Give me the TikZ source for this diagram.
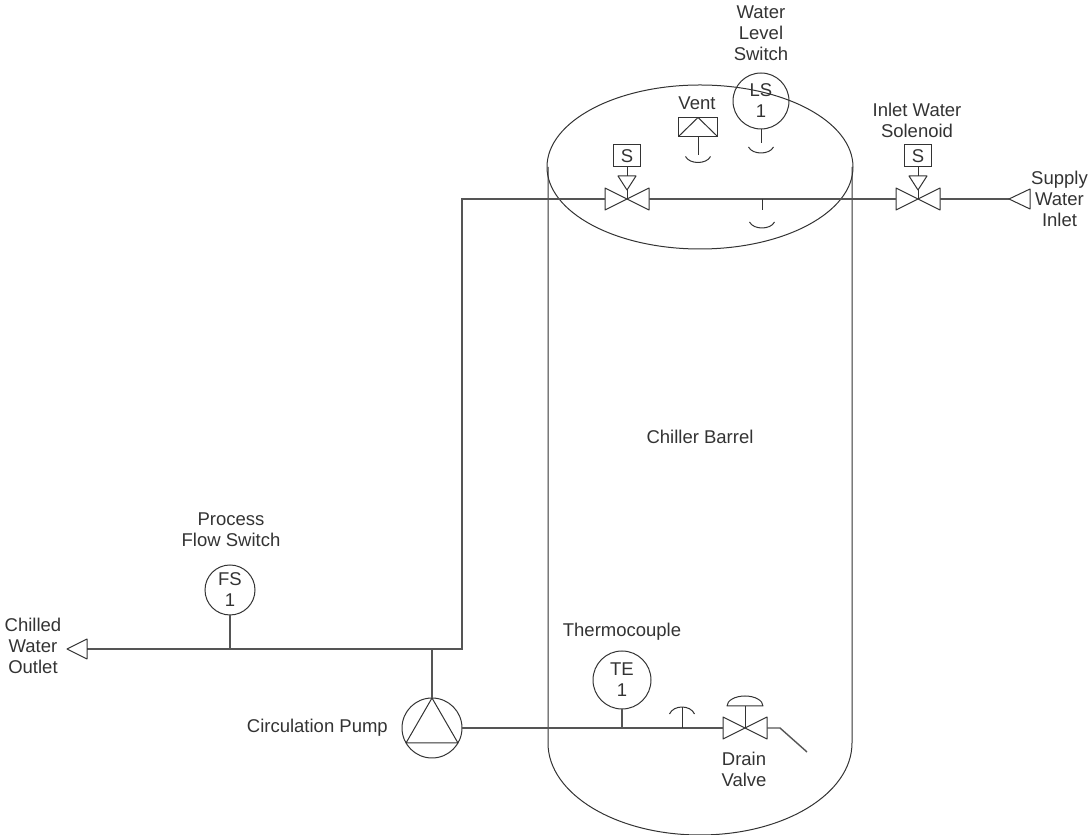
\documentclass[tikz,border=0pt]{standalone}
\usepackage{fontspec}
\setmainfont{Liberation Sans}
\usepackage{xcolor}
\usetikzlibrary{calc,positioning}
\definecolor{ink}{HTML}{333333}
\definecolor{pipeink}{HTML}{555555}
\tikzset{
  wall/.style={draw=ink, line width=1pt, line join=round},
  pipe/.style={draw=pipeink, line width=1.4pt},
  inst/.style={circle, draw=ink, line width=1pt, minimum size=50pt, inner sep=0pt, outer sep=0pt, align=center, text=ink},
  sbox/.style={rectangle, draw=ink, line width=1pt, minimum width=27pt, minimum height=22pt, inner sep=0pt, outer sep=0pt, text=ink},
  lab/.style={text=ink, align=center, inner sep=0pt},
  valve/.pic={
    \draw[wall] (-22,11) -- (22,-11) -- (22,11) -- (-22,-11) -- cycle;
    \coordinate (-w) at (-22,0);
    \coordinate (-e) at (22,0);
    \coordinate (-c) at (0,0);
  },
}

\begin{document}
\begin{tikzpicture}[x=1pt, y=1pt, font=\fontsize{18.5}{21}\selectfont]
  \useasboundingbox (0,0) rectangle (1088,835);

  % barrel
  \draw[wall] (700,668) ellipse [x radius=153pt, y radius=82pt];
  \draw[wall] (548,668) -- (548,92) arc[start angle=180, end angle=360, x radius=152pt, y radius=92pt] -- (852,668);
  \node[lab] (barrel) at (700,398) {Chiller Barrel};

  % pipe junctions
  \coordinate (outtip) at (67,186);
  \coordinate (outlet) at (87,186);
  \coordinate (riserbot) at (462,186);
  \coordinate (risertop) at (462,636);
  \coordinate (intip) at (1009,636);
  \coordinate (inlet) at (1030,636);

  \pic (sv1) at (627,636) {valve};
  \pic (sv2) at (918,636) {valve};
  \pic (dv) at (745,107) {valve};

  % instruments
  \node[inst, minimum size=60pt] (pump) at (432,107) {};
  \draw[wall] (pump.north) -- (pump.210) -- (pump.330) -- cycle;
  \node[inst] (FS) at (230,245) {FS\\1};
  \node[inst, minimum size=58pt] (TE) at (622,155) {TE\\1};
  \node[inst, minimum size=56pt] (LS) at (761,734) {LS\\1};
  \node[sbox] (sb1) at (627,679) {S};
  \node[sbox] (sb2) at (918,679) {S};
  \node[sbox, minimum width=39pt, minimum height=19pt] (vent) at (698,708) {};
  \draw[wall] (vent.south west) -- (vent.north) -- (vent.south east);

  % labels
  \node[lab, left=14pt of pump] (pumplab) {Circulation Pump};
  \node[lab] (fslab) at (231,305) {Process\\Flow Switch};
  \node[lab] (outlab) at (33,189) {Chilled\\Water\\Outlet};
  \node[lab] (telab) at (622,203) {Thermocouple};
  \node[lab] (dvlab) at (744,66) {Drain\\Valve};
  \node[lab] (ventlab) at (697,732) {Vent};
  \node[lab] (lslab) at (761,802) {Water\\Level\\Switch};
  \node[lab] (svlab) at (917,715) {Inlet Water\\Solenoid};
  \node[lab, right=1pt of inlet] (inlab) {Supply\\Water\\Inlet};

  % piping
  \draw[pipe] (outlet) -- (riserbot) -- (risertop) -- (sv1-w);
  \draw[pipe] (sv1-e) -- (sv2-w);
  \draw[pipe] (sv2-e) -- (intip);
  \draw[pipe] (pump.north) -- (pump.north |- outlet);
  \draw[pipe] (FS.south) -- (FS.south |- outlet);
  \draw[pipe] (pump.east) -- (dv-w);
  \draw[pipe] (TE.south) -- (TE.south |- pump);
  \draw[pipe] (dv-e) -- ++(13,0) -- ++(27,-24);

  % ports
  \draw[wall] (outlet) ++(0,10) -- (outtip) -- ++(20,-10) -- cycle;
  \draw[wall] (inlet) ++(0,10) -- (intip) -- ++(21,-10) -- cycle;

  % solenoid actuators
  \draw[wall] (sb1.south) -- ++(0,-9) coordinate (sa1);
  \draw[wall] ($(sa1)+(-9,0)$) -- ($(sa1)+(9,0)$) -- ($(sa1)+(0,-14)$) coordinate (st1) -- cycle;
  \draw[wall] (st1) -- (sv1-c);
  \draw[wall] (sb2.south) -- ++(0,-9) coordinate (sa2);
  \draw[wall] ($(sa2)+(-9,0)$) -- ($(sa2)+(9,0)$) -- ($(sa2)+(0,-14)$) coordinate (st2) -- cycle;
  \draw[wall] (st2) -- (sv2-c);

  % drain actuator
  \draw[wall] (dv-c) -- ++(0,22) coordinate (da);
  \draw[wall] ($(da)+(-18,0)$) arc[start angle=180, end angle=0, x radius=18pt, y radius=10pt] -- cycle;

  % wells
  \draw[wall] (682,107) -- (682,128) coordinate (tw);
  \draw[wall] ($(tw)+(-12.5,-7)$) .. controls +(4,9.3) and +(-4,9.3) .. ($(tw)+(12.5,-7)$);
  \draw[wall] (762,636) -- (762,625) coordinate (pw);
  \draw[wall] ($(pw)+(-12.5,-12)$) .. controls +(4,-8) and +(-4,-8) .. ($(pw)+(12.5,-12)$);
  \draw[wall] (LS.south) -- ++(0,-14) coordinate (lw);
  \draw[wall] ($(lw)+(-12.5,-4)$) .. controls +(4,-8) and +(-4,-8) .. ($(lw)+(12.5,-4)$);
  \draw[wall] (vent.south) -- ++(0,-19) coordinate (vw);
  \draw[wall] ($(vw)+(-12.5,-1)$) .. controls +(4,-8) and +(-4,-8) .. ($(vw)+(12.5,-1)$);
\end{tikzpicture}
\end{document}
